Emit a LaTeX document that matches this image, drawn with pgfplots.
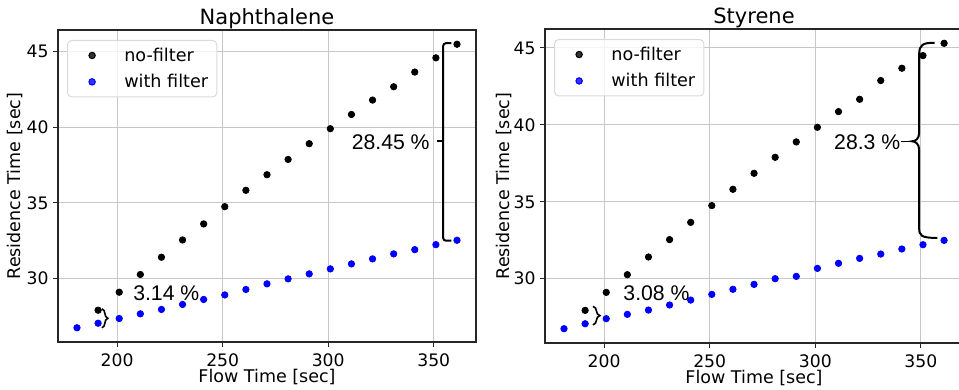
\documentclass[border=0pt]{standalone}
\usepackage{fontspec}
\setmainfont{DejaVu Sans}
\newfontfamily\arialfont{Liberation Sans}
\usepackage{pgfplots}
\pgfplotsset{compat=1.18}
\usetikzlibrary{decorations.pathreplacing}

\pgfplotsset{
  myaxis/.style={
    scale only axis, width=209pt,
    xmin=172, xmax=370,
    xtick={200,250,300,350}, ytick={30,35,40,45},
    /pgf/number format/assume math mode=true,
    grid=major, major grid style={line width=0.5pt, draw=black!22},
    axis line style={line width=0.6pt, draw=black!85},
    tick style={line width=0.5pt, draw=black!85},
    tick align=outside, tick pos=left, major tick length=2.5pt,
    ticklabel style={font=\fontsize{8.6}{10}\selectfont},
    xticklabel style={anchor=base, inner sep=0pt, yshift=-10pt},
    yticklabel style={anchor=east, inner sep=0pt, xshift=-2pt},
    label style={font=\fontsize{8.75}{10}\selectfont},
    xlabel style={at={(axis description cs:0.5,-0.13)}, anchor=base},
    title style={at={(axis description cs:0.5,1)}, anchor=base, yshift=-3.4pt, font=\fontsize{10.5}{12}\selectfont},
    legend style={at={(0.022,0.968)}, anchor=north west, draw=black!15, line width=0.5pt,
      rounded corners=2pt, fill=white, fill opacity=0.8, text opacity=1, draw opacity=1,
      font=\fontsize{8.8}{10}\selectfont, inner xsep=4.3pt, inner ysep=3.5pt,
      row sep=5.2pt, column sep=0pt,
      nodes={inner sep=0pt, text height=6.8pt, text depth=1.2pt}},
    legend cell align=left,
  },
  nofilt/.style={only marks, mark=*, mark size=1.6pt, color=black,
    legend image code/.code={\path[draw=none,fill=none] (0pt,-4pt) rectangle (24pt,4pt); \draw[##1] plot coordinates {(7.9pt,0pt)};}},
  withfilt/.style={only marks, mark=*, mark size=1.6pt, color=blue,
    legend image code/.code={\path[draw=none,fill=none] (0pt,-4pt) rectangle (24pt,4pt); \draw[##1] plot coordinates {(7.9pt,0pt)};}},
}

\begin{document}
\begin{tikzpicture}
\begin{axis}[myaxis, at={(29pt,24pt)}, anchor=south west, height=156pt,
  ymin=25.81, ymax=46.42,
  title={Naphthalene}, xlabel={Flow Time [sec]}, ylabel={Residence Time [sec]},
  ylabel style={at={(axis description cs:-0.0892,0.5)}, anchor=base}]
\addplot[nofilt] coordinates {
(191,27.91) (201,29.10) (211,30.27) (221,31.41) (231,32.55) (241,33.61)
(251,34.75) (261,35.83) (271,36.86) (281,37.87) (291,38.91) (301,39.90)
(311,40.84) (321,41.79) (331,42.67) (341,43.64) (351,44.58) (361,45.48)};
\addlegendentry{no-filter}
\addplot[withfilt] coordinates {
(181,26.75) (191,27.05) (201,27.36) (211,27.67) (221,27.96) (231,28.29)
(241,28.62) (251,28.92) (261,29.28) (271,29.65) (281,29.98) (291,30.31)
(301,30.64) (311,30.97) (321,31.30) (331,31.63) (341,31.91) (351,32.24) (361,32.53)};
\addlegendentry{with filter}
\draw[line width=1pt, rounded corners=1.5pt] (axis cs:358.3,45.55) -- (axis cs:354.4,45.55) -- (axis cs:354.4,32.50) -- (axis cs:358.3,32.50);
\draw[line width=1pt] (axis cs:354.4,39.06) -- (axis cs:351.3,39.06);
\node[anchor=base, inner sep=0pt, font=\arialfont\fontsize{10.6}{12}\selectfont] at (axis cs:329.6,38.51) {28.45 \%};
\draw[line width=0.8pt, decorate, decoration={brace, amplitude=3pt}] (axis cs:192.8,28.0) -- (axis cs:192.8,26.75);
\node[anchor=base, inner sep=0pt, font=\arialfont\fontsize{10.6}{12}\selectfont] at (axis cs:223.3,28.53) {3.14 \%};
\end{axis}

\begin{axis}[myaxis, at={(272.5pt,23.5pt)}, anchor=south west, height=157pt, width=210pt,
  xmax=370.9,
  ymin=25.82, ymax=46.23,
  title={Styrene}, xlabel={Flow Time [sec]}, ylabel={Residence Time [sec]},
  ylabel style={at={(axis description cs:-0.0850,0.5)}, anchor=base},
  title style={at={(axis description cs:0.4976,1)}},
  xlabel style={at={(axis description cs:0.4976,-0.13)}}]
\addplot[nofilt] coordinates {
(191,27.94) (201,29.11) (211,30.26) (221,31.41) (231,32.54) (241,33.66)
(251,34.75) (261,35.81) (271,36.85) (281,37.89) (291,38.89) (301,39.84)
(311,40.86) (321,41.66) (331,42.88) (341,43.68) (351,44.50) (361,45.30)};
\addlegendentry{no-filter}
\addplot[withfilt] coordinates {
(181,26.75) (191,27.07) (201,27.40) (211,27.68) (221,27.96) (231,28.29)
(241,28.61) (251,28.98) (261,29.31) (271,29.63) (281,30.00) (291,30.15)
(301,30.67) (311,31.00) (321,31.32) (331,31.60) (341,31.93) (351,32.21) (361,32.49)};
\addlegendentry{with filter}
\draw[line width=1pt] (axis cs:356.5,45.33) .. controls (axis cs:351,45.35) and (axis cs:349.2,45.2) .. (axis cs:349.2,44.6) -- (axis cs:349.2,39.5) .. controls (axis cs:349.2,39.1) and (axis cs:347.5,38.93) .. (axis cs:345.8,38.93) .. controls (axis cs:347.5,38.93) and (axis cs:349.2,38.76) .. (axis cs:349.2,38.36) -- (axis cs:349.2,33.3) .. controls (axis cs:349.2,32.8) and (axis cs:350,32.65) .. (axis cs:357.8,32.65);
\draw[line width=0.8pt] (axis cs:340.6,38.93) -- (axis cs:345.8,38.93);
\node[anchor=base, inner sep=0pt, font=\arialfont\fontsize{10.6}{12}\selectfont] at (axis cs:324.6,38.39) {28.3 \%};
\draw[line width=0.8pt, decorate, decoration={brace, amplitude=3.5pt}] (axis cs:194.7,28.2) -- (axis cs:194.7,27.0);
\node[anchor=base, inner sep=0pt, font=\arialfont\fontsize{10.6}{12}\selectfont] at (axis cs:224.8,28.57) {3.08 \%};
\end{axis}
\pgfresetboundingbox
\path[use as bounding box] (0,0) rectangle (479.5pt,195pt);
\end{tikzpicture}
\end{document}
